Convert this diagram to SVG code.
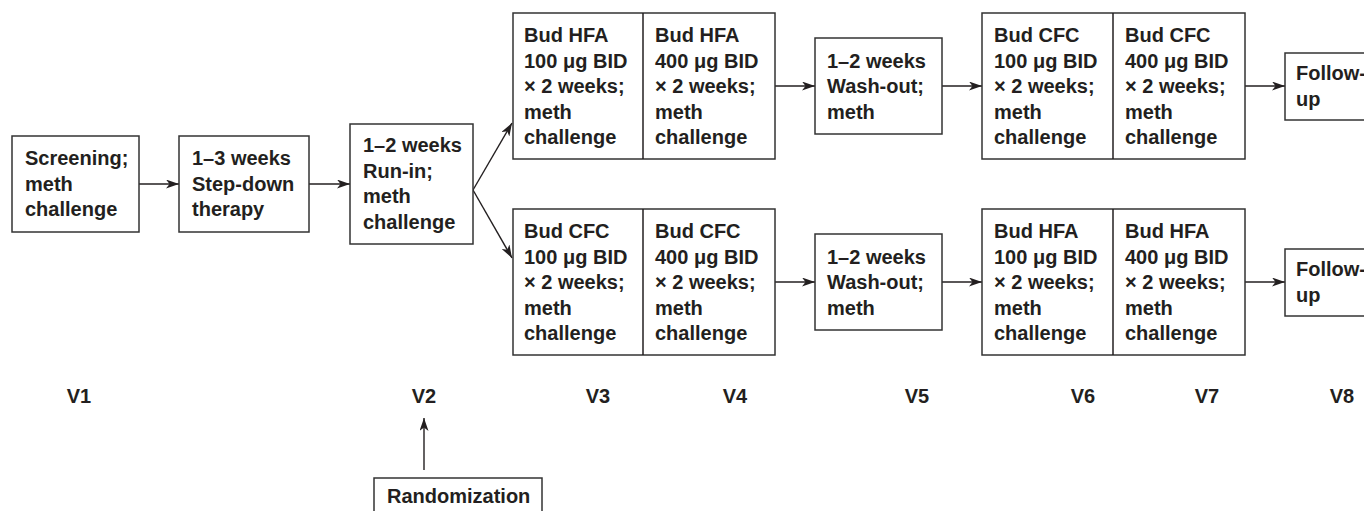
<svg xmlns="http://www.w3.org/2000/svg" width="1364" height="511" viewBox="0 0 1364 511">
<style>
.box{fill:#fff;stroke:#333;stroke-width:1.5}
.div{stroke:#231f20;stroke-width:1.5}
.t{font-family:"Liberation Sans",Arial,sans-serif;font-weight:bold;font-size:20px;fill:#231f20}
.v{font-family:"Liberation Sans",Arial,sans-serif;font-weight:bold;font-size:20px;fill:#231f20;text-anchor:middle}
.c{fill:none;stroke:#231f20;stroke-width:1.4;marker-end:url(#ah)}
</style>
<defs>
<marker id="ah" viewBox="0 0 13 9" refX="13" refY="4.5" markerWidth="13" markerHeight="9" markerUnits="userSpaceOnUse" orient="auto">
<path d="M0,0 L13,4.5 L0,9 L3.5,4.5 Z" fill="#231f20"/>
</marker>
</defs>
<rect width="1364" height="511" fill="#fff"/>

<g id="connectors">
<line class="c" x1="139" y1="184" x2="179" y2="184"/>
<line class="c" x1="309" y1="184" x2="350" y2="184"/>
<line class="c" x1="473" y1="190" x2="512" y2="123"/>
<line class="c" x1="473" y1="190" x2="512" y2="258"/>
<line class="c" x1="775" y1="86" x2="815" y2="86"/>
<line class="c" x1="942" y1="86" x2="982" y2="86"/>
<line class="c" x1="1245" y1="86" x2="1285" y2="86"/>
<line class="c" x1="775" y1="282" x2="815" y2="282"/>
<line class="c" x1="942" y1="282" x2="982" y2="282"/>
<line class="c" x1="1245" y1="282" x2="1285" y2="282"/>
<line class="c" x1="424" y1="470" x2="424" y2="418"/>
</g>

<g id="screening">
<rect class="box" x="12" y="136" width="127" height="96"/>
<text class="t" x="25" y="165">Screening;</text>
<text class="t" x="25" y="190.5">meth</text>
<text class="t" x="25" y="216">challenge</text>
</g>

<g id="stepdown">
<rect class="box" x="179" y="136" width="130" height="96"/>
<text class="t" x="192" y="165">1–3 weeks</text>
<text class="t" x="192" y="190.5">Step-down</text>
<text class="t" x="192" y="216">therapy</text>
</g>

<g id="runin">
<rect class="box" x="350" y="124" width="123" height="120"/>
<text class="t" x="363" y="152">1–2 weeks</text>
<text class="t" x="363" y="177.5">Run-in;</text>
<text class="t" x="363" y="203">meth</text>
<text class="t" x="363" y="228.5">challenge</text>
</g>

<g id="top-treat1">
<rect class="box" x="513" y="13" width="262" height="146"/>
<line class="div" x1="643" y1="13" x2="643" y2="159"/>
<text class="t" x="524" y="42">Bud HFA</text>
<text class="t" x="524" y="67.5">100 μg BID</text>
<text class="t" x="524" y="93">× 2 weeks;</text>
<text class="t" x="524" y="118.5">meth</text>
<text class="t" x="524" y="144">challenge</text>
<text class="t" x="655" y="42">Bud HFA</text>
<text class="t" x="655" y="67.5">400 μg BID</text>
<text class="t" x="655" y="93">× 2 weeks;</text>
<text class="t" x="655" y="118.5">meth</text>
<text class="t" x="655" y="144">challenge</text>
</g>

<g id="top-washout">
<rect class="box" x="815" y="38" width="127" height="96"/>
<text class="t" x="827" y="67.5">1–2 weeks</text>
<text class="t" x="827" y="93">Wash-out;</text>
<text class="t" x="827" y="118.5">meth</text>
</g>

<g id="top-treat2">
<rect class="box" x="982" y="13" width="263" height="146"/>
<line class="div" x1="1113" y1="13" x2="1113" y2="159"/>
<text class="t" x="994" y="42">Bud CFC</text>
<text class="t" x="994" y="67.5">100 μg BID</text>
<text class="t" x="994" y="93">× 2 weeks;</text>
<text class="t" x="994" y="118.5">meth</text>
<text class="t" x="994" y="144">challenge</text>
<text class="t" x="1125" y="42">Bud CFC</text>
<text class="t" x="1125" y="67.5">400 μg BID</text>
<text class="t" x="1125" y="93">× 2 weeks;</text>
<text class="t" x="1125" y="118.5">meth</text>
<text class="t" x="1125" y="144">challenge</text>
</g>

<g id="top-followup">
<rect class="box" x="1285" y="53" width="90" height="67"/>
<text class="t" x="1296" y="80">Follow-</text>
<text class="t" x="1296" y="105.5">up</text>
</g>

<g id="bottom-treat1">
<rect class="box" x="513" y="209" width="262" height="146"/>
<line class="div" x1="643" y1="209" x2="643" y2="355"/>
<text class="t" x="524" y="238">Bud CFC</text>
<text class="t" x="524" y="263.5">100 μg BID</text>
<text class="t" x="524" y="289">× 2 weeks;</text>
<text class="t" x="524" y="314.5">meth</text>
<text class="t" x="524" y="340">challenge</text>
<text class="t" x="655" y="238">Bud CFC</text>
<text class="t" x="655" y="263.5">400 μg BID</text>
<text class="t" x="655" y="289">× 2 weeks;</text>
<text class="t" x="655" y="314.5">meth</text>
<text class="t" x="655" y="340">challenge</text>
</g>

<g id="bottom-washout">
<rect class="box" x="815" y="234" width="127" height="96"/>
<text class="t" x="827" y="263.5">1–2 weeks</text>
<text class="t" x="827" y="289">Wash-out;</text>
<text class="t" x="827" y="314.5">meth</text>
</g>

<g id="bottom-treat2">
<rect class="box" x="982" y="209" width="263" height="146"/>
<line class="div" x1="1113" y1="209" x2="1113" y2="355"/>
<text class="t" x="994" y="238">Bud HFA</text>
<text class="t" x="994" y="263.5">100 μg BID</text>
<text class="t" x="994" y="289">× 2 weeks;</text>
<text class="t" x="994" y="314.5">meth</text>
<text class="t" x="994" y="340">challenge</text>
<text class="t" x="1125" y="238">Bud HFA</text>
<text class="t" x="1125" y="263.5">400 μg BID</text>
<text class="t" x="1125" y="289">× 2 weeks;</text>
<text class="t" x="1125" y="314.5">meth</text>
<text class="t" x="1125" y="340">challenge</text>
</g>

<g id="bottom-followup">
<rect class="box" x="1285" y="249" width="90" height="67"/>
<text class="t" x="1296" y="276">Follow-</text>
<text class="t" x="1296" y="301.5">up</text>
</g>

<g id="visits">
<text class="v" x="79" y="403">V1</text>
<text class="v" x="424" y="403">V2</text>
<text class="v" x="598" y="403">V3</text>
<text class="v" x="735" y="403">V4</text>
<text class="v" x="917" y="403">V5</text>
<text class="v" x="1083" y="403">V6</text>
<text class="v" x="1207" y="403">V7</text>
<text class="v" x="1342" y="403">V8</text>
</g>

<g id="randomization">
<rect class="box" x="374" y="478" width="168" height="40"/>
<text class="t" x="387" y="503">Randomization</text>
</g>
</svg>
